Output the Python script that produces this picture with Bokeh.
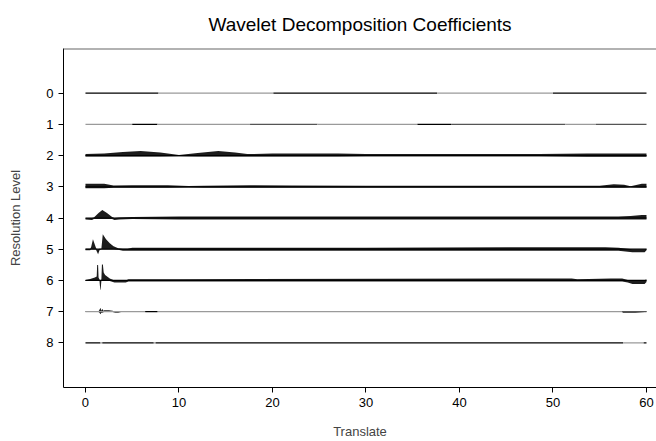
from bokeh.plotting import figure
from bokeh.models import Range1d, Span, FixedTicker
from bokeh.embed import file_html
from bokeh.resources import INLINE

# ---------------- data ----------------
title_text = "Wavelet Decomposition Coefficients"
levels = [0, 1, 2, 3, 4, 5, 6, 7, 8]
x_ticks = [0, 10, 20, 30, 40, 50, 60]

# tone of the thin baseline of each level: breakpoints along Translate and tone of each piece
L0_breaks = [0, 7.8, 20.1, 37.6, 50.0, 60]
L0_tones = ["k", "g", "k", "g", "k"]
L1_breaks = [0, 5.0, 7.7, 17.6, 24.8, 35.5, 39.1, 51.3, 54.6, 60]
L1_tones = ["g", "k", "g", "d", "g", "k", "d", "g", "d"]
L2_breaks = [0, 60]
L2_tones = ["k"]
L3_breaks = [0, 60]
L3_tones = ["k"]
L4_breaks = [0, 60]
L4_tones = ["k"]
L5_breaks = [0, 60]
L5_tones = ["k"]
L6_breaks = [0, 60]
L6_tones = ["k"]
L7_breaks = [0, 6.4, 7.7, 57.4, 60]
L7_tones = ["g", "k", "g", "d"]
L8_breaks = [0, 1.6, 1.8, 7.3, 7.5, 57.5, 59.7, 60]
L8_tones = ["k", "g", "k", "g", "k", "g", "k"]

# coefficient envelopes (upper = hi, lower = lo) per level
L2_x = [0, 2, 4, 5.9, 8, 10, 12, 14.2, 16, 17.3, 20, 27, 30, 48.5, 53.7, 60]
L2_hi = [1.5, 2, 3.5, 4.5, 3, 0.6, 2.5, 4.7, 3, 1.5, 2, 2, 1.5, 1.5, 2, 2]
L2_lo = [-1, -1, -1, -1, -1, -0.6, -1, -1, -1, -1, -1, -1, -0.8, -0.8, -1.2, -1.2]

L3_x = [0, 2, 3, 5, 8.8, 11, 12.7, 17.6, 22, 30, 45, 55, 56.5, 57.6, 58.3, 59.5, 60]
L3_hi = [3, 3, 1.2, 1.5, 1.5, 0.8, 1, 1.5, 1.3, 1, 1, 1, 2.5, 2, 0.6, 3, 3]
L3_lo = [-1.5, -1.5, -1, -1, -1, -0.7, -1, -1, -1, -1, -1, -1, -1, -1, -0.8, -1, -1]

L4_x = [0, 0.7, 0.9, 1.4, 1.8, 2.3, 2.85, 3.1, 3.6, 5, 10, 20, 40, 57, 58.3, 59.5, 60]
L4_hi = [0, 0, 0.5, 5, 8, 5, 1, 0, 0.5, 1, 1.5, 1.5, 1.5, 1.5, 2, 3, 3]
L4_lo = [-1.5, -2, -1, -1, -1, -1, -1, -2, -1.5, -1, -1.5, -1.5, -1.5, -1.5, -1.5, -1.5, -1.5]

L5_x = [0, 0.5, 0.6, 0.8, 1.1, 1.2, 1.35, 1.5, 1.7, 1.85, 2.2, 2.6, 3.0, 3.5, 4.0, 4.5, 5, 10, 30, 51, 55.6, 57, 58.5, 59.8, 60]
L5_hi = [0.5, 0.5, 2, 10, 2, 0, 0, 0.5, 0.5, 15, 10, 6, 3, 1, 0.5, 0.5, 1.5, 1.5, 1.5, 2, 2, 1.5, 0, 0, 0.5]
L5_lo = [-1, -1, 0, 0, 0, -2, -5, -1, 0, 0, 0, 0, 0, -0.5, -1.5, -1.5, -1.5, -1.5, -1.5, -1.5, -1.5, -1.5, -3, -3, -1]

L6_x = [0, 0.5, 1.0, 1.2, 1.25, 1.35, 1.4, 1.5, 1.58, 1.62, 1.7, 1.76, 1.86, 1.95, 2.1, 2.6, 3.1, 4.3, 4.6, 10, 52, 52.6, 56.2, 57.4, 58, 58.5, 59.8, 60]
L6_hi = [0.5, 1.5, 3, 4, 15.5, 15.5, 3, 1, 0, 0, 1, 16, 16, 8, 5.6, 2, 0, 0, 1.2, 1.2, 2, 1.2, 2, 2, 0.5, 0.5, 0.5, 1]
L6_lo = [-0.5, -0.5, -0.5, -0.5, -0.5, -0.5, -0.5, -0.5, -9.5, -9.5, -0.5, -0.5, -0.5, -0.5, -0.5, -0.5, -2, -2, -1.2, -1.2, -1.2, -1.2, -1.2, -1.2, -2, -3.5, -3.5, -1.5]

L7_x = [0, 1.4, 1.5, 1.6, 1.7, 1.8, 1.9, 2.0, 2.5, 2.9, 3.2, 3.5, 3.8, 57.4, 57.5, 58.8, 59.8, 60]
L7_hi = [0.3, 0.3, 2, 4, 1, 3, 1, 1.5, 1.5, 1, 0, 0, 0.3, 0.3, 0, 0, 0.3, 0.3]
L7_lo = [-0.3, -0.3, -1, -2.7, -1, -1, -0.5, -0.3, -0.3, -0.3, -1, -1, -0.3, -0.3, -1, -1, -0.3, -0.3]

tone_breaks = [L0_breaks, L1_breaks, L2_breaks, L3_breaks, L4_breaks, L5_breaks, L6_breaks, L7_breaks, L8_breaks]
tone_lists = [L0_tones, L1_tones, L2_tones, L3_tones, L4_tones, L5_tones, L6_tones, L7_tones, L8_tones]
envelopes = {2: (L2_x, L2_hi, L2_lo), 3: (L3_x, L3_hi, L3_lo), 4: (L4_x, L4_hi, L4_lo),
             5: (L5_x, L5_hi, L5_lo), 6: (L6_x, L6_hi, L6_lo), 7: (L7_x, L7_hi, L7_lo)}

# ---------------- styling ----------------
TONE = {"k": "#000000", "d": "#555555", "g": "#9a9a9a"}
S = 1 / 31.5  # coefficient unit -> level unit
FONT = "Liberation Sans"
X0, X1 = -2.35, 61.07
Y_BOTTOM, Y_TOP = 9.43, -1.43

p = figure(width=656, height=441, output_backend="svg", toolbar_location=None,
           x_range=Range1d(X0, X1), y_range=Range1d(Y_BOTTOM, Y_TOP),
           min_border_left=63, min_border_right=0, min_border_top=48, min_border_bottom=51,
           title=title_text)
p.outline_line_color = None
p.grid.visible = False
p.background_fill_color = "white"

p.title.align = "center"
p.title.text_font = FONT
p.title.text_font_style = "normal"
p.title.text_font_size = "19px"
p.title.text_color = "#000000"
p.title.vertical_align = "top"
p.title.standoff = 23

for ax in (p.xaxis[0], p.yaxis[0]):
    ax.major_label_text_font = FONT
    ax.major_label_text_font_size = "13px"
    ax.axis_label_text_font = FONT
    ax.axis_label_text_font_size = "13px"
    ax.axis_label_text_font_style = "normal"
    ax.major_tick_out = 5
    ax.major_tick_in = 0
    ax.minor_tick_line_color = None
    ax.axis_line_color = "#000000"
    ax.major_tick_line_color = "#000000"
    ax.major_label_text_color = "#000000"

p.xaxis[0].ticker = FixedTicker(ticks=x_ticks)
p.xaxis[0].axis_label = "Translate"
p.xaxis[0].major_label_standoff = 5
p.xaxis[0].axis_label_standoff = 14

p.yaxis[0].ticker = FixedTicker(ticks=levels)
p.yaxis[0].axis_label = "Resolution Level"
p.yaxis[0].major_label_standoff = 5
p.yaxis[0].axis_label_standoff = 20
p.yaxis[0].major_label_orientation = "horizontal"

# top border of the box
p.add_layout(Span(location=Y_TOP, dimension="width", line_color="#666666", line_width=2))

# envelopes
for lvl, (xs, hi, lo) in envelopes.items():
    p.varea(x=xs, y1=[lvl - h * S for h in hi], y2=[lvl - l * S for l in lo],
            fill_color="#1c1c1c")

# baselines
for lvl, br, tn in zip(levels, tone_breaks, tone_lists):
    x0 = br[:-1]
    x1 = br[1:]
    p.segment(x0=x0, y0=[lvl] * len(x0), x1=x1, y1=[lvl] * len(x0),
              line_color=[TONE[t] for t in tn], line_width=1.2)

open("out.html", "w").write(file_html(p, INLINE))
